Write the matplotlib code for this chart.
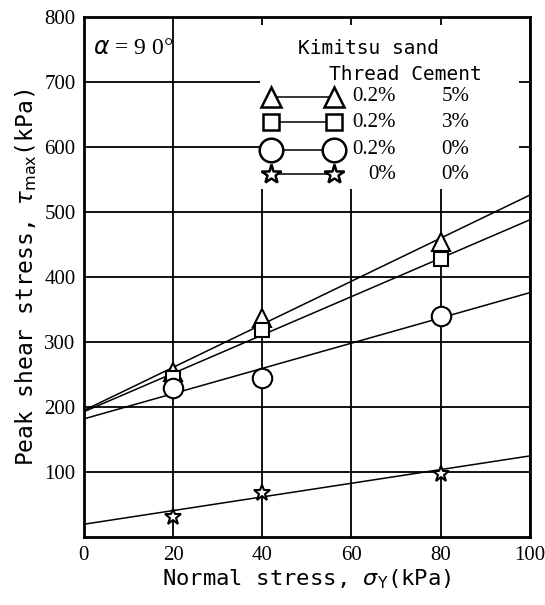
import numpy as np
import matplotlib.pyplot as plt
from matplotlib.patches import Rectangle

# measured points (normal stress kPa -> peak shear stress kPa)
sigma = [20, 40, 80]
tau_tri = [254, 337, 454]      # thread 0.2%, cement 5%
tau_sq = [245, 318, 428]       # thread 0.2%, cement 3%
tau_circ = [229, 245, 340]     # thread 0.2%, cement 0%
tau_star = [31, 68, 97]        # thread 0%, cement 0%

# fitted lines, read at sigma = 0 and sigma = 100
fit_x = [0, 100]
fit_tri = [195, 526]
fit_sq = [193, 488]
fit_circ = [182, 376]
fit_star = [20, 125]

thread = ['0.2%', '0.2%', '0.2%', '0%']
cement = ['5%', '3%', '0%', '0%']

mono = 'DejaVu Sans Mono'
serif = 'Liberation Serif'

fig = plt.figure(figsize=(5.45, 6.05), dpi=100)
ax = fig.add_axes([0.154, 0.112, 0.818, 0.860])
ax.set_xlim(0, 100)
ax.set_ylim(0, 800)
ax.set_xticks(range(0, 101, 20))
ax.set_yticks(range(100, 801, 100))
ax.tick_params(length=0, pad=6)
for lab in ax.get_xticklabels() + ax.get_yticklabels():
    lab.set_fontfamily(serif)
    lab.set_fontsize(15)
ax.grid(True, color='black', lw=1.3)
ax.set_axisbelow(True)
for s in ax.spines.values():
    s.set_linewidth(2)

series = [
    (tau_tri, fit_tri, '^', 13),
    (tau_sq, fit_sq, 's', 10),
    (tau_circ, fit_circ, 'o', 14),
    (tau_star, fit_star, '*', 12),
]
for pts, fit, m, ms in series:
    ax.plot(fit_x, fit, color='black', lw=1.1, zorder=3)
    ax.plot(sigma, pts, ls='none', marker=m, ms=ms, mfc='white',
            mec='black', mew=1.5, zorder=4)

# legend box covering the grid
ax.add_patch(Rectangle((39.5, 535), 58, 252, facecolor='white',
                       edgecolor='none', zorder=2))
ax.text(48, 752, 'Kimitsu sand', family=mono, fontsize=14, va='center', zorder=5)
ax.text(55, 712, 'Thread Cement', family=mono, fontsize=14, va='center', zorder=5)
row_y = [677, 638, 596, 558]
leg_ms = [15, 12, 17, 15]
for i, (pts, fit, m, ms) in enumerate(series):
    y = row_y[i]
    ax.plot([42, 56], [y, y], color='black', lw=1.1, marker=m, ms=leg_ms[i],
            mfc='white', mec='black', mew=1.8, zorder=5)
    ax.text(70, y, thread[i], family=serif, fontsize=15, ha='right',
            va='center', zorder=5)
    ax.text(86.5, y, cement[i], family=serif, fontsize=15, ha='right',
            va='center', zorder=5)

ax.text(2, 752, r'$\alpha$' + ' = 9 0°', family=serif, fontsize=17,
        va='center', zorder=5)

ax.set_xlabel(r'Normal stress, $\sigma_{\rm Y}$(kPa)', family=mono,
              fontsize=16, labelpad=2)
ax.set_ylabel(r'Peak shear stress, $\tau_{\rm max}$(kPa)', family=mono,
              fontsize=16.5, labelpad=4)

fig.savefig('out.png', dpi=100)
